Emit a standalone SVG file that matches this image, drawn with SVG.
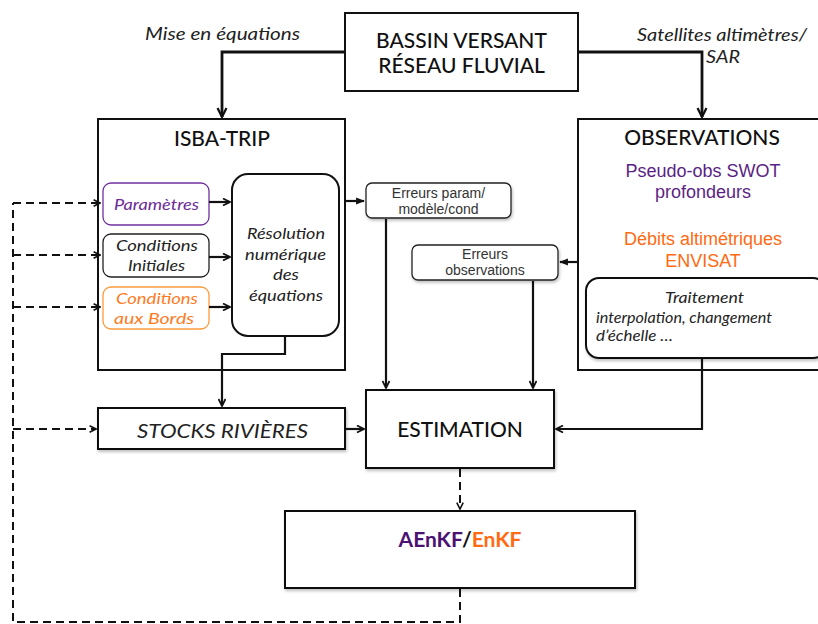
<svg xmlns="http://www.w3.org/2000/svg" width="818" height="624" viewBox="0 0 818 624">
<style>
.box{fill:#fff;stroke:#111;stroke-width:2}
.rbox{fill:#fff;stroke-width:1.3}
.t{font-family:Lato,"Liberation Sans",sans-serif}
.h{font-family:"Liberation Sans",Arial,sans-serif}
.it{font-style:italic}
.ln{fill:none;stroke:#111;stroke-width:2.2}
.thk{fill:none;stroke:#111;stroke-width:2.8}
.dsh{fill:none;stroke:#111;stroke-width:2;stroke-dasharray:8,5}
</style>
<defs>
<marker id="a" viewBox="0 0 10 10" refX="9" refY="5" markerWidth="4" markerHeight="4" orient="auto" markerUnits="strokeWidth">
<path d="M1,1 L9,5 L1,9" fill="none" stroke="#111" stroke-width="2"/>
</marker>
<marker id="af" viewBox="0 0 10 10" refX="9" refY="5" markerWidth="4" markerHeight="4" orient="auto" markerUnits="strokeWidth">
<path d="M0,1 L10,5 L0,9 Z" fill="#111"/>
</marker>
<filter id="sh" x="-5%" y="-5%" width="115%" height="125%">
<feDropShadow dx="1" dy="2" stdDeviation="1.5" flood-color="#000" flood-opacity="0.25"/>
</filter>
</defs>

<g id="mise-label"><text class="t it" x="222.5" y="40" font-size="17" text-anchor="middle" fill="#222" textLength="155" lengthAdjust="spacingAndGlyphs">Mise en équations</text></g>
<g id="sat-label">
<text class="t it" x="722" y="41" font-size="17" text-anchor="middle" fill="#222" textLength="170" lengthAdjust="spacingAndGlyphs">Satellites altimètres/</text>
<text class="t it" x="706" y="63" font-size="17" fill="#222" textLength="34" lengthAdjust="spacingAndGlyphs">SAR</text>
</g>

<g id="bassin">
<rect class="box" x="345" y="13" width="233" height="78"/>
<text class="t" x="461.5" y="48" font-size="21" text-anchor="middle" font-weight="500" fill="#111">BASSIN VERSANT</text>
<text class="t" x="461.5" y="73" font-size="21" text-anchor="middle" font-weight="500" fill="#111">RÉSEAU FLUVIAL</text>
</g>

<g id="isba">
<rect class="box" x="98" y="119" width="247" height="251"/>
<text class="t" x="222" y="146" font-size="21" text-anchor="middle" font-weight="500" fill="#111">ISBA-TRIP</text>
</g>

<g id="parametres">
<rect class="rbox" x="103" y="183" width="106" height="42" rx="8" stroke="#7030A0"/>
<text class="t it" x="156.5" y="210" font-size="16" text-anchor="middle" fill="#6a2b96" textLength="85" lengthAdjust="spacingAndGlyphs">Paramètres</text>
</g>
<g id="cond-init">
<rect class="rbox" x="103" y="234" width="106" height="43" rx="8" stroke="#222"/>
<text class="t it" x="157" y="251" font-size="16" text-anchor="middle" fill="#222" textLength="82" lengthAdjust="spacingAndGlyphs">Conditions</text>
<text class="t it" x="156.5" y="271" font-size="16" text-anchor="middle" fill="#222" textLength="57" lengthAdjust="spacingAndGlyphs">Initiales</text>
</g>
<g id="cond-bords">
<rect class="rbox" x="103" y="287" width="106" height="42" rx="8" stroke="#ff9a3c"/>
<text class="t it" x="157" y="304" font-size="16" text-anchor="middle" fill="#ff7a22" textLength="82" lengthAdjust="spacingAndGlyphs">Conditions</text>
<text class="t it" x="154" y="324" font-size="16" text-anchor="middle" fill="#ff7a22" textLength="80" lengthAdjust="spacingAndGlyphs">aux Bords</text>
</g>
<g id="resolution">
<rect class="box" x="232" y="174" width="107" height="162" rx="16"/>
<text class="t it" x="286" y="239" font-size="16" text-anchor="middle" fill="#222" textLength="78" lengthAdjust="spacingAndGlyphs">Résolution</text>
<text class="t it" x="285.5" y="260" font-size="16" text-anchor="middle" fill="#222" textLength="81" lengthAdjust="spacingAndGlyphs">numérique</text>
<text class="t it" x="286" y="280" font-size="16" text-anchor="middle" fill="#222" textLength="26" lengthAdjust="spacingAndGlyphs">des</text>
<text class="t it" x="286" y="301" font-size="16" text-anchor="middle" fill="#222" textLength="74" lengthAdjust="spacingAndGlyphs">équations</text>
</g>

<g id="err-param">
<rect class="rbox" x="366" y="183" width="145" height="35" rx="6" stroke="#222" filter="url(#sh)"/>
<text class="h" x="438.5" y="198" font-size="14" text-anchor="middle" fill="#333">Erreurs param/</text>
<text class="h" x="438.5" y="214" font-size="14" text-anchor="middle" fill="#333">modèle/cond</text>
</g>
<g id="err-obs">
<rect class="rbox" x="412" y="245" width="146" height="35" rx="6" stroke="#222" filter="url(#sh)"/>
<text class="h" x="485" y="259" font-size="14" text-anchor="middle" fill="#333">Erreurs</text>
<text class="h" x="485" y="275" font-size="14" text-anchor="middle" fill="#333">observations</text>
</g>

<g id="observations">
<rect class="box" x="578" y="119" width="250" height="251"/>
<text class="t" x="702" y="145" font-size="21" text-anchor="middle" font-weight="500" fill="#111">OBSERVATIONS</text>
<text class="h" x="703" y="177" font-size="18" text-anchor="middle" fill="#5b1f85">Pseudo-obs SWOT</text>
<text class="h" x="703" y="198" font-size="18" text-anchor="middle" fill="#5b1f85">profondeurs</text>
<text class="h" x="703" y="245" font-size="18" text-anchor="middle" fill="#ff6a13">Débits altimétriques</text>
<text class="h" x="703" y="267" font-size="18" text-anchor="middle" fill="#ff6a13">ENVISAT</text>
</g>
<g id="traitement">
<rect class="box" x="586" y="278" width="240" height="80" rx="13" filter="url(#sh)"/>
<text class="t it" x="704.5" y="303" font-size="16" text-anchor="middle" fill="#222" textLength="79" lengthAdjust="spacingAndGlyphs">Traitement</text>
<text class="t it" x="596" y="323" font-size="15" fill="#222" textLength="176" lengthAdjust="spacingAndGlyphs">interpolation, changement</text>
<text class="t it" x="596" y="341" font-size="15" fill="#222" textLength="77" lengthAdjust="spacingAndGlyphs">d’échelle …</text>
</g>

<g id="stocks">
<rect class="box" x="98" y="408" width="247" height="41" filter="url(#sh)"/>
<text class="t it" x="222.5" y="438" font-size="19.5" text-anchor="middle" fill="#222" textLength="171" lengthAdjust="spacingAndGlyphs">STOCKS RIVIÈRES</text>
</g>
<g id="estimation">
<rect class="box" x="366" y="390" width="188" height="78" filter="url(#sh)"/>
<text class="t" x="460" y="437" font-size="21" text-anchor="middle" font-weight="500" fill="#111">ESTIMATION</text>
</g>
<g id="aenkf">
<rect class="box" x="285" y="511" width="350" height="77" filter="url(#sh)"/>
<text class="t" x="460" y="547" font-size="21" text-anchor="middle" font-weight="bold"><tspan fill="#4b1272">AEnKF</tspan><tspan fill="#111">/</tspan><tspan fill="#ff6a13">EnKF</tspan></text>
</g>

<g id="connectors">
<path class="thk" d="M345,52 H222 V117" marker-end="url(#a)"/>
<path class="thk" d="M578,52 H702 V117" marker-end="url(#a)"/>
<path class="ln" d="M209,202 H230" marker-end="url(#a)"/>
<path class="ln" d="M209,257 H230" marker-end="url(#a)"/>
<path class="ln" d="M209,307 H230" marker-end="url(#a)"/>
<path class="ln" d="M285,337 V354 H222 V406" marker-end="url(#a)"/>
<path class="ln" d="M346,201 H364" stroke-width="1.6" marker-end="url(#af)"/>
<path class="ln" d="M577,262 H560" stroke-width="1.6" marker-end="url(#af)"/>
<path class="ln" d="M386,219 V388" marker-end="url(#a)"/>
<path class="ln" d="M533,281 V388" marker-end="url(#a)"/>
<path class="ln" d="M346,429 H364" marker-end="url(#a)"/>
<path class="ln" d="M702,359 V429 H556" marker-end="url(#a)"/>
<path class="dsh" d="M460,469 V509" marker-end="url(#a)"/>
<path class="dsh" d="M460,589 V622 H13 V203"/>
<path class="dsh" d="M13,203 H100" marker-end="url(#a)"/>
<path class="dsh" d="M13,255 H100" marker-end="url(#a)"/>
<path class="dsh" d="M13,307 H100" marker-end="url(#a)"/>
<path class="dsh" d="M13,429 H96" marker-end="url(#a)"/>
</g>
</svg>
